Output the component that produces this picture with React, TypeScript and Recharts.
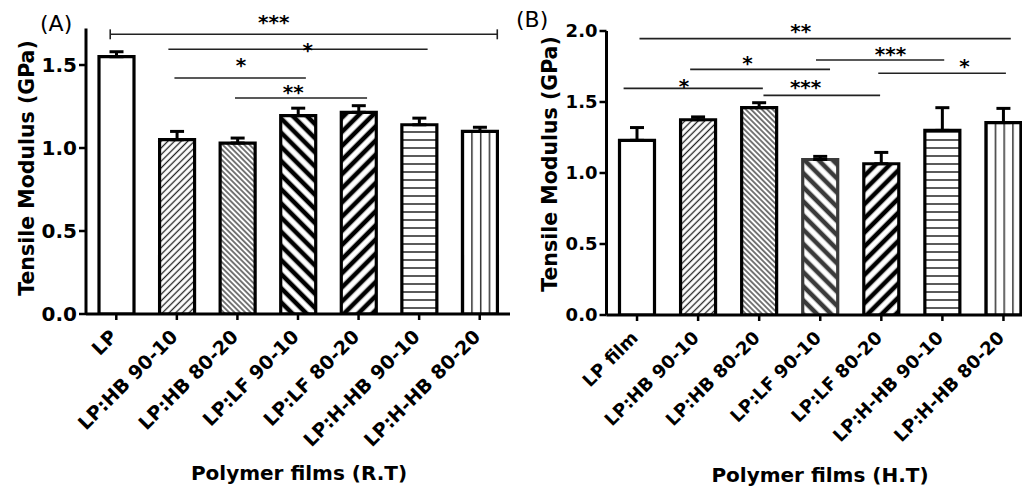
import React from "react";
import {
  BarChart,
  Bar,
  XAxis,
  YAxis,
  Cell,
  ErrorBar,
  ReferenceLine,
  ReferenceDot,
} from "recharts";

// Tensile modulus (GPa), mean and upper SD
const filmsRT = [
  "LP",
  "LP:HB 90-10",
  "LP:HB 80-20",
  "LP:LF 90-10",
  "LP:LF 80-20",
  "LP:H-HB 90-10",
  "LP:H-HB 80-20",
];
const modulusRT = [1.55, 1.05, 1.03, 1.195, 1.215, 1.14, 1.1];
const errorRT = [0.03, 0.05, 0.03, 0.045, 0.04, 0.04, 0.025];

const filmsHT = [
  "LP film",
  "LP:HB 90-10",
  "LP:HB 80-20",
  "LP:LF 90-10",
  "LP:LF 80-20",
  "LP:H-HB 90-10",
  "LP:H-HB 80-20",
];
const modulusHT = [1.23, 1.375, 1.46, 1.095, 1.065, 1.3, 1.355];
const errorHT = [0.09, 0.02, 0.035, 0.022, 0.08, 0.16, 0.1];

const ticksRT = [0, 0.5, 1, 1.5];
const ticksHT = [0, 0.5, 1, 1.5, 2];

// significance bars: from/to in category-index units (0 = first bar), y in GPa
interface Sig {
  from: number;
  to: number;
  y: number;
  mark: string;
  at: number;
  markY: number;
  caps?: boolean;
}

const sigRT: Sig[] = [
  { from: -0.1, to: 6.29, y: 1.685, mark: "***", at: 2.6, markY: 1.76, caps: true },
  { from: 0.86, to: 5.14, y: 1.595, mark: "*", at: 3.16, markY: 1.59 },
  { from: 0.96, to: 3.13, y: 1.422, mark: "*", at: 2.06, markY: 1.5 },
  { from: 1.96, to: 4.14, y: 1.301, mark: "**", at: 2.92, markY: 1.336 },
];

const sigHT: Sig[] = [
  { from: 0.04, to: 6.12, y: 1.946, mark: "**", at: 2.68, markY: 1.998 },
  { from: 2.93, to: 5.03, y: 1.796, mark: "***", at: 4.15, markY: 1.838 },
  { from: 0.87, to: 3.16, y: 1.73, mark: "*", at: 1.81, markY: 1.773 },
  { from: 3.95, to: 6.04, y: 1.702, mark: "*", at: 5.36, markY: 1.756 },
  { from: -0.22, to: 2.06, y: 1.596, mark: "*", at: 0.77, markY: 1.615 },
  { from: 2.07, to: 3.98, y: 1.547, mark: "***", at: 2.76, markY: 1.608 },
];

const fillsRT = [
  "#ffffff",
  "url(#fineUp)",
  "url(#fineDown)",
  "url(#wideDown)",
  "url(#wideUp)",
  "url(#horiz)",
  "url(#vert)",
];
const fillsHT = [
  "#ffffff",
  "url(#fineUp)",
  "url(#fineDown)",
  "url(#wideDownGrey)",
  "url(#wideUp)",
  "url(#horiz)",
  "url(#vert)",
];
const strokesRT = ["#000", "#000", "#000", "#000", "#000", "#000", "#000"];
const strokesHT = ["#000", "#000", "#000", "#3a3a3a", "#000", "#000", "#000"];

const FONT = "DejaVu Sans, sans-serif";

function AngledTick(props: any) {
  const { x, y, payload, fontSize } = props;
  return (
    <g transform={`translate(${x + 2},${y + 16})`}>
      <text
        textAnchor="end"
        transform="rotate(-45)"
        fontFamily={FONT}
        fontWeight={700}
        fontSize={fontSize}
        fill="#000"
      >
        {payload.value}
      </text>
    </g>
  );
}

function Patterns() {
  return (
    <svg width={0} height={0} style={{ position: "absolute" }}>
      <defs>
        <pattern id="fineUp" width="4.7" height="4.7" patternUnits="userSpaceOnUse" patternTransform="rotate(45)">
          <rect width="4.7" height="4.7" fill="#fff" />
          <rect x="1.7" y="0" width="1.3" height="4.7" fill="#222" />
        </pattern>
        <pattern id="fineDown" width="3.8" height="3.8" patternUnits="userSpaceOnUse" patternTransform="rotate(-45)">
          <rect width="3.8" height="3.8" fill="#fff" />
          <rect x="1.3" y="0" width="1.2" height="3.8" fill="#222" />
        </pattern>
        <pattern id="wideDown" width="10" height="10" patternUnits="userSpaceOnUse" patternTransform="rotate(-45)">
          <rect width="10" height="10" fill="#fff" />
          <rect x="2.7" y="0" width="4.6" height="10" fill="#000" />
        </pattern>
        <pattern id="wideDownGrey" width="10" height="10" patternUnits="userSpaceOnUse" patternTransform="rotate(-45)">
          <rect width="10" height="10" fill="#fff" />
          <rect x="2.7" y="0" width="4.6" height="10" fill="#3a3a3a" />
        </pattern>
        <pattern id="wideUp" width="10" height="10" patternUnits="userSpaceOnUse" patternTransform="rotate(45)">
          <rect width="10" height="10" fill="#fff" />
          <rect x="2.7" y="0" width="4.6" height="10" fill="#000" />
        </pattern>
        <pattern id="horiz" width="8" height="8" patternUnits="userSpaceOnUse">
          <rect width="8" height="8" fill="#fff" />
          <rect x="0" y="3.2" width="8" height="1.6" fill="#333" />
        </pattern>
        <pattern id="vert" width="0.25" height="1" patternUnits="objectBoundingBox">
          <rect width="100" height="2000" fill="#fff" />
          <rect x="0" y="0" width="1.5" height="2000" fill="#333" />
        </pattern>
      </defs>
    </svg>
  );
}

interface PanelProps {
  films: string[];
  modulus: number[];
  errors: number[];
  sig: Sig[];
  ticks: number[];
  fills: string[];
  strokes: string[];
  yMax: number;
  width: number;
  top: number;
  yAxisWidth: number;
  xAxisHeight: number;
  fontSize: number;
  yFontSize: number;
}

function Panel({
  films,
  modulus,
  errors,
  sig,
  ticks,
  fills,
  strokes,
  yMax,
  width,
  top,
  yAxisWidth,
  xAxisHeight,
  fontSize,
  yFontSize,
}: PanelProps) {
  const data = films.map((name, i) => ({
    name,
    value: modulus[i],
    err: [0, errors[i]],
  }));
  // half a category band, so the hidden numeric axis puts 0..n-1 on the bar centres
  const halfBand = (width - yAxisWidth - 10) / films.length / 2;

  return (
    <BarChart
      width={width}
      height={489}
      data={data}
      margin={{ top, right: 10, bottom: 0, left: 0 }}
    >
      <XAxis
        dataKey="name"
        interval={0}
        height={xAxisHeight}
        tickSize={6}
        axisLine={{ stroke: "#000", strokeWidth: 3 }}
        tickLine={{ stroke: "#000", strokeWidth: 2.5 }}
        tick={<AngledTick fontSize={fontSize} />}
      />
      <XAxis
        xAxisId="pos"
        type="number"
        domain={[0, films.length - 1]}
        padding={{ left: halfBand, right: halfBand }}
        allowDataOverflow
        hide
      />
      <YAxis
        domain={[0, yMax]}
        ticks={ticks}
        width={yAxisWidth}
        tickSize={7}
        tickMargin={2}
        allowDataOverflow
        axisLine={{ stroke: "#000", strokeWidth: 3 }}
        tickLine={{ stroke: "#000", strokeWidth: 2.5 }}
        tickFormatter={(v: number) => v.toFixed(1)}
        tick={{ fill: "#000", fontSize: yFontSize, fontWeight: 700, fontFamily: FONT }}
      />
      <Bar
        dataKey="value"
        barSize={35}
        stroke="#000"
        strokeWidth={3.2}
        isAnimationActive={false}
      >
        {data.map((d, i) => (
          <Cell key={d.name} fill={fills[i]} stroke={strokes[i]} />
        ))}
        <ErrorBar
          dataKey="err"
          width={7}
          stroke="#000"
          strokeWidth={3}
          isAnimationActive={false}
        />
      </Bar>
      {sig.map((s, i) => (
        <ReferenceLine
          key={`l${i}`}
          xAxisId="pos"
          segment={[
            { x: s.from, y: s.y },
            { x: s.to, y: s.y },
          ]}
          stroke="#222"
          strokeWidth={1.6}
          ifOverflow="visible"
        />
      ))}
      {sig
        .filter((s) => s.caps)
        .flatMap((s, i) => [
          <ReferenceLine
            key={`c${i}a`}
            xAxisId="pos"
            segment={[
              { x: s.from, y: s.y - 0.03 },
              { x: s.from, y: s.y + 0.03 },
            ]}
            stroke="#222"
            strokeWidth={1.6}
            ifOverflow="visible"
          />,
          <ReferenceLine
            key={`c${i}b`}
            xAxisId="pos"
            segment={[
              { x: s.to, y: s.y - 0.03 },
              { x: s.to, y: s.y + 0.03 },
            ]}
            stroke="#222"
            strokeWidth={1.6}
            ifOverflow="visible"
          />,
        ])}
      {sig.map((s, i) => (
        <ReferenceDot
          key={`m${i}`}
          xAxisId="pos"
          x={s.at}
          y={s.markY}
          r={1}
          fill="none"
          stroke="none"
          ifOverflow="visible"
          label={{
            value: s.mark,
            position: "center",
            fill: "#000",
            fontSize: 20,
            fontWeight: 700,
            fontFamily: FONT,
          }}
        />
      ))}
    </BarChart>
  );
}

export default function App() {
  return (
    <div
      style={{
        position: "fixed",
        left: 0,
        top: 0,
        width: 1022,
        height: 489,
        overflow: "hidden",
        background: "#fff",
      }}
    >
      <Patterns />
      <div style={{ position: "absolute", left: 0, top: 0 }}>
        <Panel
          films={filmsRT}
          modulus={modulusRT}
          errors={errorRT}
          sig={sigRT}
          ticks={ticksRT}
          fills={fillsRT}
          strokes={strokesRT}
          yMax={1.72}
          width={520}
          top={28.5}
          yAxisWidth={86}
          xAxisHeight={175}
          fontSize={19}
          yFontSize={20}
        />
      </div>
      <div style={{ position: "absolute", left: 510, top: 0 }}>
        <Panel
          films={filmsHT}
          modulus={modulusHT}
          errors={errorHT}
          sig={sigHT}
          ticks={ticksHT}
          fills={fillsHT}
          strokes={strokesHT}
          yMax={2}
          width={534}
          top={31}
          yAxisWidth={96.5}
          xAxisHeight={174}
          fontSize={18}
          yFontSize={18}
        />
      </div>
      <svg
        width={1022}
        height={489}
        style={{ position: "absolute", left: 0, top: 0, pointerEvents: "none" }}
        fontFamily={FONT}
        fill="#000"
      >
        <text x={40} y={31} fontSize={22}>(A)</text>
        <text x={516} y={27} fontSize={22}>(B)</text>
        <text
          x={34}
          y={168}
          fontSize={20.5}
          fontWeight={700}
          textAnchor="middle"
          transform="rotate(-90 34 168)"
        >
          Tensile Modulus (GPa)
        </text>
        <text
          x={557}
          y={164}
          fontSize={20.5}
          fontWeight={700}
          textAnchor="middle"
          transform="rotate(-90 557 164)"
        >
          Tensile Modulus (GPa)
        </text>
        <text x={299} y={480} fontSize={20} fontWeight={700} textAnchor="middle">
          Polymer films (R.T)
        </text>
        <text x={820} y={482} fontSize={20} fontWeight={700} textAnchor="middle">
          Polymer films (H.T)
        </text>
      </svg>
    </div>
  );
}
